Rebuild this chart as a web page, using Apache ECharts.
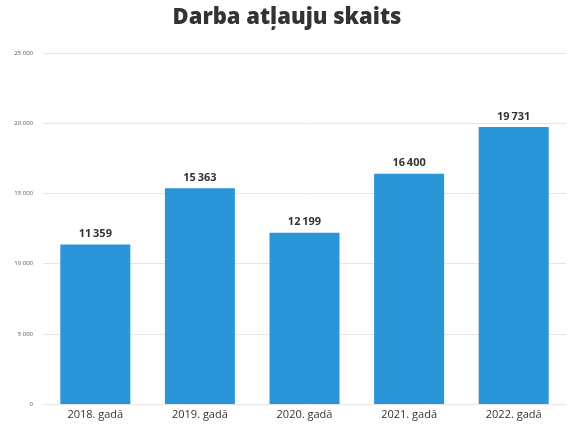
<!DOCTYPE html>
<html><head><meta charset="utf-8">
<script src="https://cdn.jsdelivr.net/npm/echarts@6/dist/echarts.min.js"></script>
<style>html,body{margin:0;padding:0;background:#fff}#c{width:574px;height:432px}</style>
</head><body><div id="c"></div>
<script>
const categories = ['2018. gadā','2019. gadā','2020. gadā','2021. gadā','2022. gadā'];
const values = [11359, 15363, 12199, 16400, 19731];
const yTicks = [0, 5000, 10000, 15000, 20000, 25000];
const titleText = 'Darba atļauju skaits';

function fmt(v, sep){ return String(v).replace(/\B(?=(\d{3})+(?!\d))/g, sep || ' '); }

const chart = echarts.init(document.getElementById('c'));
chart.setOption({
  animation:false,
  title:{text:titleText,left:'center',top:2,textStyle:{fontFamily:'Open Sans',fontWeight:800,fontSize:22,color:'#333'}},
  grid:{left:43,right:8,top:53,bottom:28},
  xAxis:{type:'category',data:categories,axisTick:{show:false},
    axisLine:{lineStyle:{color:'#e6e6e6'}},
    axisLabel:{color:'#333',fontFamily:'Open Sans',fontSize:11,margin:5}},
  yAxis:{type:'value',min:yTicks[0],max:yTicks[yTicks.length-1],interval:5000,
    axisLabel:{color:'#555',fontFamily:'Open Sans',fontSize:6,margin:10,formatter:v=>fmt(v)},
    splitLine:{lineStyle:{color:'#e6e6e6'}}},
  series:[{type:'bar',data:values,barWidth:70,itemStyle:{color:'#2a96d7'},
    label:{show:true,position:'top',distance:5,color:'#333',fontFamily:'Open Sans',fontWeight:'bold',fontSize:11,formatter:p=>fmt(p.value,'\u2009')}}]
});
</script></body></html>
